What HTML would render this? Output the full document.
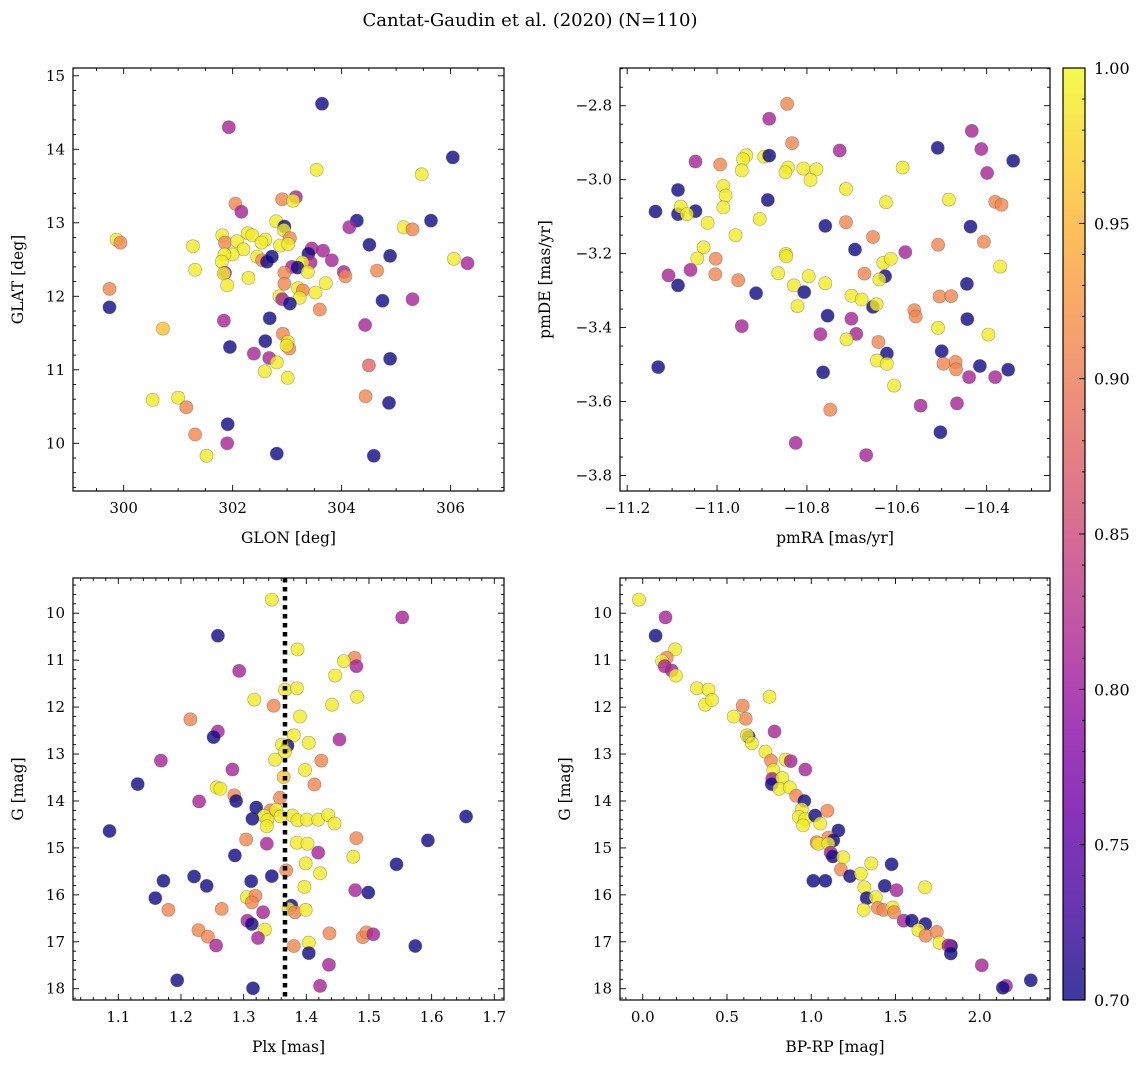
<!DOCTYPE html>
<html><head><meta charset="utf-8">
<style>
body{margin:0;background:#fff;}
svg{display:block;font-family:"DejaVu Serif","Liberation Serif",serif;}
</style></head>
<body>
<svg id="fig" width="1148" height="1067" viewBox="0 0 1148 1067" xmlns="http://www.w3.org/2000/svg">
<rect width="1148" height="1067" fill="#fff"/>
<text x="530" y="26" font-size="18" text-anchor="middle">Cantat-Gaudin et al. (2020) (N=110)</text>
<defs>
<linearGradient id="plasma" x1="0" y1="1" x2="0" y2="0">
<stop offset="0" stop-color="#0d0887"/><stop offset="0.1" stop-color="#41049d"/><stop offset="0.2" stop-color="#6a00a8"/><stop offset="0.3" stop-color="#8f0da4"/><stop offset="0.4" stop-color="#b12a90"/><stop offset="0.5" stop-color="#cc4778"/><stop offset="0.6" stop-color="#e16462"/><stop offset="0.7" stop-color="#f2844b"/><stop offset="0.8" stop-color="#fca636"/><stop offset="0.9" stop-color="#fcce25"/><stop offset="1" stop-color="#f0f921"/>
</linearGradient>
</defs>
</svg>
<script>
// ---- Panel 1: GLON / GLAT ----
const glon=[303.64,301.93,306.04,303.54,305.47,302.91,303.16,303.11,302.05,302.16,304.28,305.64,304.14,305.14,305.30,302.80,302.95,302.94,303.05,299.87,299.94,301.81,301.86,302.08,302.28,302.36,302.60,302.53,302.20,302.00,301.85,301.80,301.27,301.31,301.86,301.84,301.90,302.29,302.45,302.54,302.63,302.72,302.87,303.02,303.45,303.39,303.66,303.82,303.43,303.28,303.09,303.19,302.95,303.38,302.95,304.04,304.07,304.65,304.51,304.89,306.06,306.31,303.71,303.20,303.29,303.52,303.23,302.86,302.91,303.05,303.60,304.75,305.30,299.74,299.74,300.72,301.84,302.68,304.43,302.60,302.92,303.01,303.04,302.99,301.95,302.39,302.67,302.81,302.59,303.01,304.50,304.89,300.53,301.00,301.15,304.44,304.87,301.91,301.31,301.90,301.52,302.81,304.59];
const glat=[14.62,14.30,13.89,13.72,13.66,13.32,13.35,13.30,13.26,13.15,13.03,13.03,12.94,12.94,12.91,13.02,12.95,12.90,12.79,12.77,12.73,12.83,12.73,12.75,12.86,12.83,12.77,12.73,12.64,12.57,12.57,12.47,12.68,12.36,12.32,12.31,12.15,12.25,12.54,12.49,12.47,12.54,12.69,12.71,12.65,12.58,12.62,12.49,12.46,12.46,12.40,12.39,12.32,12.33,12.17,12.33,12.27,12.35,12.70,12.55,12.51,12.45,12.18,12.11,12.08,12.05,11.98,12.00,11.96,11.90,11.82,11.94,11.96,12.10,11.85,11.56,11.67,11.70,11.61,11.39,11.49,11.38,11.29,11.33,11.31,11.22,11.16,11.10,10.98,10.89,11.06,11.15,10.59,10.62,10.49,10.64,10.55,10.26,10.12,10.00,9.83,9.86,9.83];
const prob1=[0.70,0.81,0.70,0.99,0.99,0.91,0.81,0.99,0.91,0.81,0.70,0.70,0.81,0.99,0.91,0.99,0.70,0.99,0.91,0.99,0.91,0.99,0.91,0.99,0.99,0.99,0.99,0.99,0.99,0.99,0.99,0.99,0.99,0.99,0.81,0.99,0.99,0.99,0.99,0.91,0.70,0.70,0.99,0.99,0.81,0.70,0.81,0.81,0.81,0.99,0.81,0.70,0.91,0.99,0.91,0.81,0.91,0.91,0.70,0.70,0.99,0.81,0.99,0.99,0.91,0.99,0.99,0.99,0.81,0.70,0.91,0.70,0.81,0.91,0.70,0.96,0.81,0.70,0.81,0.70,0.91,0.99,0.91,0.99,0.70,0.81,0.81,0.99,0.99,0.99,0.88,0.70,0.99,0.99,0.91,0.91,0.70,0.70,0.91,0.81,0.99,0.70,0.70];
// ---- Panel 2: pmRA / pmDE ----
const pmra=[-10.844,-10.884,-10.833,-10.433,-10.509,-10.412,-10.727,-10.341,-10.399,-11.048,-10.993,-10.935,-10.942,-10.945,-10.895,-10.884,-10.842,-10.848,-10.808,-10.779,-10.792,-10.587,-10.713,-11.087,-10.986,-10.981,-10.986,-11.137,-11.087,-11.081,-11.048,-11.067,-10.887,-10.905,-11.021,-10.959,-10.624,-10.484,-10.381,-10.367,-10.759,-10.713,-10.653,-10.436,-10.406,-10.508,-11.030,-11.044,-10.693,-10.581,-10.847,-10.846,-11.003,-11.108,-11.059,-11.004,-11.087,-10.953,-10.913,-10.864,-10.829,-10.796,-10.806,-10.759,-10.821,-10.672,-10.630,-10.613,-10.626,-10.639,-10.701,-10.678,-10.653,-10.645,-10.370,-10.444,-10.505,-10.479,-10.561,-10.558,-10.754,-10.701,-10.443,-10.945,-10.508,-10.396,-10.770,-10.690,-10.712,-10.641,-10.622,-10.500,-10.644,-10.622,-10.496,-10.469,-10.468,-10.415,-10.352,-10.439,-10.381,-11.131,-10.764,-10.606,-10.547,-10.466,-10.748,-10.503,-10.825,-10.668];
const pmde=[-2.795,-2.835,-2.901,-2.868,-2.914,-2.917,-2.921,-2.949,-2.982,-2.951,-2.959,-2.934,-2.945,-2.975,-2.938,-2.935,-2.967,-2.980,-2.970,-2.972,-3.001,-2.967,-3.025,-3.028,-3.017,-3.043,-3.075,-3.086,-3.093,-3.073,-3.085,-3.093,-3.055,-3.106,-3.117,-3.150,-3.061,-3.054,-3.060,-3.068,-3.125,-3.115,-3.155,-3.127,-3.168,-3.176,-3.183,-3.213,-3.189,-3.196,-3.201,-3.207,-3.214,-3.259,-3.244,-3.256,-3.286,-3.272,-3.307,-3.253,-3.286,-3.261,-3.304,-3.280,-3.342,-3.254,-3.225,-3.214,-3.261,-3.270,-3.314,-3.324,-3.344,-3.337,-3.235,-3.282,-3.316,-3.315,-3.353,-3.370,-3.368,-3.376,-3.377,-3.396,-3.401,-3.419,-3.418,-3.417,-3.432,-3.439,-3.470,-3.464,-3.489,-3.498,-3.498,-3.493,-3.513,-3.504,-3.514,-3.534,-3.534,-3.507,-3.521,-3.557,-3.611,-3.605,-3.622,-3.683,-3.712,-3.745];
const prob2=[0.91,0.81,0.91,0.81,0.70,0.81,0.81,0.70,0.81,0.81,0.91,0.99,0.99,0.99,0.99,0.70,0.99,0.99,0.99,0.99,0.99,0.99,0.99,0.70,0.99,0.99,0.99,0.70,0.70,0.99,0.70,0.99,0.70,0.99,0.99,0.99,0.99,0.99,0.91,0.91,0.70,0.91,0.91,0.70,0.91,0.91,0.99,0.99,0.70,0.81,0.99,0.99,0.91,0.81,0.81,0.91,0.70,0.91,0.70,0.99,0.99,0.99,0.70,0.99,0.99,0.91,0.99,0.99,0.70,0.99,0.99,0.99,0.70,0.99,0.99,0.70,0.91,0.91,0.91,0.91,0.70,0.81,0.70,0.81,0.99,0.99,0.81,0.81,0.99,0.91,0.70,0.70,0.99,0.99,0.91,0.91,0.91,0.70,0.70,0.81,0.81,0.70,0.70,0.99,0.81,0.81,0.91,0.70,0.81,0.81];
// ---- Panel 3: Plx / G ----
const plx=[1.345,1.553,1.259,1.386,1.477,1.460,1.480,1.293,1.446,1.366,1.385,1.481,1.317,1.441,1.348,1.390,1.215,1.259,1.252,1.380,1.453,1.370,1.361,1.404,1.366,1.424,1.350,1.168,1.282,1.398,1.364,1.131,1.413,1.257,1.263,1.285,1.288,1.229,1.358,1.320,1.343,1.352,1.333,1.314,1.338,1.337,1.359,1.378,1.386,1.401,1.419,1.435,1.445,1.086,1.655,1.304,1.480,1.594,1.337,1.385,1.402,1.419,1.475,1.286,1.399,1.544,1.368,1.422,1.345,1.221,1.172,1.241,1.312,1.397,1.478,1.499,1.159,1.305,1.319,1.313,1.376,1.372,1.382,1.399,1.180,1.265,1.331,1.306,1.313,1.334,1.228,1.243,1.256,1.323,1.437,1.490,1.496,1.507,1.404,1.380,1.404,1.574,1.436,1.194,1.315,1.422];
const gmag3=[9.71,10.09,10.48,10.77,10.95,11.02,11.13,11.23,11.33,11.63,11.60,11.78,11.84,11.95,11.97,12.20,12.26,12.52,12.64,12.60,12.69,12.82,12.80,12.76,12.95,13.14,13.12,13.14,13.33,13.34,13.49,13.64,13.65,13.71,13.74,13.88,14.00,14.01,13.93,14.14,14.20,14.19,14.32,14.38,14.41,14.54,14.33,14.31,14.41,14.40,14.40,14.30,14.48,14.64,14.33,14.82,14.79,14.84,14.91,14.89,14.91,15.10,15.19,15.16,15.33,15.35,15.48,15.54,15.60,15.61,15.70,15.81,15.71,15.83,15.90,15.95,16.07,16.05,16.02,16.16,16.23,16.30,16.37,16.32,16.32,16.30,16.37,16.55,16.62,16.74,16.75,16.89,17.08,16.92,16.82,16.90,16.80,16.84,17.02,17.09,17.24,17.09,17.49,17.82,17.99,17.94];
const prob3=[0.99,0.81,0.70,0.99,0.91,0.99,0.81,0.81,0.99,0.99,0.99,0.99,0.99,0.99,0.91,0.99,0.91,0.81,0.70,0.99,0.81,0.70,0.99,0.99,0.99,0.91,0.99,0.81,0.81,0.99,0.96,0.70,0.91,0.99,0.99,0.91,0.70,0.81,0.91,0.70,0.91,0.99,0.99,0.70,0.99,0.99,0.99,0.99,0.99,0.99,0.99,0.99,0.99,0.70,0.70,0.91,0.91,0.70,0.81,0.99,0.99,0.81,0.99,0.70,0.99,0.70,0.91,0.99,0.70,0.70,0.70,0.70,0.70,0.99,0.81,0.70,0.70,0.99,0.91,0.91,0.70,0.99,0.91,0.99,0.91,0.91,0.81,0.81,0.70,0.99,0.91,0.91,0.81,0.81,0.91,0.91,0.91,0.81,0.99,0.91,0.70,0.70,0.81,0.70,0.70,0.81];
const plxLine=1.366;
// ---- Panel 4: BP-RP / G ----
const bprp=[-0.022,0.135,0.076,0.192,0.142,0.115,0.130,0.172,0.197,0.322,0.390,0.370,0.411,0.752,0.593,0.611,0.540,0.782,0.629,0.619,0.648,0.728,0.761,0.848,0.878,0.965,0.775,0.768,0.766,0.828,0.811,0.873,0.910,0.959,0.944,0.926,0.964,0.951,1.023,1.053,1.096,1.161,1.032,1.101,1.131,1.042,1.101,1.115,1.128,1.189,1.176,1.012,1.084,1.230,1.295,1.356,1.477,1.315,1.436,1.506,1.675,1.329,1.383,1.395,1.428,1.311,1.483,1.491,1.549,1.597,1.677,1.636,1.679,1.745,1.761,1.830,1.814,1.828,2.012,2.156,2.137,2.303];
const gmag4=[9.71,10.09,10.48,10.77,10.95,11.02,11.13,11.22,11.33,11.60,11.63,11.95,11.85,11.78,11.97,12.25,12.20,12.52,12.63,12.60,12.77,12.95,13.14,13.12,13.15,13.33,13.34,13.53,13.64,13.51,13.74,13.71,13.89,14.00,14.18,14.34,14.39,14.52,14.31,14.48,14.21,14.63,14.88,14.78,14.84,14.91,14.91,15.10,15.18,15.20,15.46,15.70,15.70,15.60,15.55,15.33,15.35,15.84,15.81,15.90,15.84,16.07,16.05,16.28,16.32,16.32,16.27,16.37,16.55,16.55,16.62,16.75,16.87,16.79,17.02,17.09,17.08,17.25,17.50,17.94,17.98,17.82];
const prob4=[0.99,0.81,0.70,0.99,0.91,0.99,0.81,0.81,0.99,0.99,0.99,0.99,0.99,0.99,0.91,0.91,0.99,0.81,0.70,0.99,0.99,0.99,0.91,0.99,0.81,0.81,0.99,0.81,0.70,0.99,0.99,0.99,0.91,0.70,0.99,0.99,0.99,0.99,0.70,0.99,0.91,0.70,0.91,0.91,0.70,0.99,0.99,0.81,0.70,0.99,0.91,0.70,0.70,0.70,0.99,0.99,0.70,0.99,0.70,0.81,0.99,0.70,0.99,0.91,0.91,0.99,0.99,0.91,0.81,0.70,0.70,0.99,0.91,0.91,0.99,0.70,0.81,0.70,0.81,0.81,0.70,0.70];
// ---- tick labels ----
const p1xTicks=[300,302,304,306], p1yTicks=[10,11,12,13,14,15];
const p2xTicks=[-11.2,-11.0,-10.8,-10.6,-10.4], p2yTicks=[-2.8,-3.0,-3.2,-3.4,-3.6,-3.8];
const p3xTicks=[1.1,1.2,1.3,1.4,1.5,1.6,1.7], gTicks=[10,11,12,13,14,15,16,17,18];
const p4xTicks=[0.0,0.5,1.0,1.5,2.0];
const cbTicks=[0.70,0.75,0.80,0.85,0.90,0.95,1.00];

const NS="http://www.w3.org/2000/svg";
const svg=document.getElementById('fig');
function mk(tag,attrs,parent){const e=document.createElementNS(NS,tag);for(const k in attrs)e.setAttribute(k,attrs[k]);(parent||svg).appendChild(e);return e;}
const stops=[[0,13,8,135],[0.1,65,4,157],[0.2,106,0,168],[0.3,143,13,164],[0.4,177,42,144],[0.5,204,71,120],[0.6,225,100,98],[0.7,242,132,75],[0.8,252,166,54],[0.9,252,206,37],[1,240,249,33]];
function plasma(v){const t=Math.max(0,Math.min(1,(v-0.7)/0.3));for(let i=1;i<stops.length;i++){if(t<=stops[i][0]){const a=stops[i-1],b=stops[i],f=(t-a[0])/(b[0]-a[0]);return 'rgb('+[1,2,3].map(j=>Math.round(a[j]+f*(b[j]-a[j]))).join(',')+')';}}return 'rgb(240,249,33)';}
function fmt(v,d){return (v<0?'\u2212':'')+Math.abs(v).toFixed(d);}

function panel(o){
  const g=mk('g',{});
  
  
  const sx=v=>o.x0+(v-o.xd[0])/(o.xd[1]-o.xd[0])*(o.x1-o.x0);
  const sy=v=>o.y1-(v-o.yd[0])/(o.yd[1]-o.yd[0])*(o.y1-o.y0);
  const pts=mk('g',{},g);
  
  
  for(let i=0;i<o.xs.length;i++){
    const c=mk('circle',{cx:sx(o.xs[i]).toFixed(1),cy:sy(o.ys[i]).toFixed(1),r:6.6,fill:plasma(o.ps[i]),'fill-opacity':0.8,stroke:'#555','stroke-opacity':0.5,'stroke-width':0.6},pts);
    
    
  }
  if(o.vline!==undefined){
    const l=mk('line',{x1:sx(o.vline),x2:sx(o.vline),y1:o.y0,y2:o.y1,stroke:'#000','stroke-width':4.5,'stroke-dasharray':'4.5,4.5'},g);
    
    
  }
  const fr=mk('rect',{x:o.x0,y:o.y0,width:o.x1-o.x0,height:o.y1-o.y0,fill:'none',stroke:'#000','stroke-width':1.2},g);
  
  
  const tk=mk('g',{stroke:'#000','stroke-width':0.9},g);
  
  
  const xlo=Math.min(...o.xd),xhi=Math.max(...o.xd),ylo=Math.min(...o.yd),yhi=Math.max(...o.yd);
  const ms=o.xmin;
  for(let v=Math.ceil(xlo/ms)*ms;v<=xhi;v+=ms){const X=sx(v);const major=o.xt.some(t=>Math.abs(t-v)<ms/3);const L=major?6:3;
    mk('line',{x1:X,x2:X,y1:o.y1,y2:o.y1-L},tk);mk('line',{x1:X,x2:X,y1:o.y0,y2:o.y0+L},tk);}
  const mys=o.ymin;
  for(let v=Math.ceil(ylo/mys)*mys;v<=yhi;v+=mys){const Y=sy(v);const major=o.yt.some(t=>Math.abs(t-v)<mys/3);const L=major?6:3;
    mk('line',{x1:o.x0,x2:o.x0+L,y1:Y,y2:Y},tk);mk('line',{x1:o.x1,x2:o.x1-L,y1:Y,y2:Y},tk);}
  o.xt.forEach(t=>{const e=mk('text',{x:sx(t),y:o.y1+22,'font-size':15,'text-anchor':'middle'},g);e.textContent=fmt(t,o.xdp);
    });
  o.yt.forEach(t=>{const e=mk('text',{x:o.x0-8,y:sy(t)+5,'font-size':15,'text-anchor':'end'},g);e.textContent=fmt(t,o.ydp);
    });
  const xl=mk('text',{x:(o.x0+o.x1)/2,y:o.y1+52,'font-size':15.5,'text-anchor':'middle'},g);xl.textContent=o.xlab;
  
  const yx=o.x0-o.ylabOff, yy=(o.y0+o.y1)/2;
  const yl=mk('text',{x:yx,y:yy,'font-size':15.5,'text-anchor':'middle',transform:'rotate(-90 '+yx+' '+yy+')'},g);yl.textContent=o.ylab;
  
}

panel({name:'panel-sky-position',x0:73,x1:504,y0:68,y1:491,xd:[299.07,306.98],yd:[9.351,15.106],xs:glon,ys:glat,ps:prob1,xt:p1xTicks,yt:p1yTicks,xmin:0.5,ymin:0.2,xdp:0,ydp:0,xlab:'GLON [deg]',ylab:'GLAT [deg]',ylabOff:50});
panel({name:'panel-proper-motion',x0:620,x1:1050,y0:68,y1:491,xd:[-11.216,-10.259],yd:[-3.842,-2.698],xs:pmra,ys:pmde,ps:prob2,xt:p2xTicks,yt:p2yTicks,xmin:0.05,ymin:0.05,xdp:1,ydp:1,xlab:'pmRA [mas/yr]',ylab:'pmDE [mas/yr]',ylabOff:70});
panel({name:'panel-parallax-magnitude',x0:73,x1:504,y0:578,y1:1000,xd:[1.0277,1.7155],yd:[18.24,9.25],xs:plx,ys:gmag3,ps:prob3,xt:p3xTicks,yt:gTicks,xmin:0.02,ymin:0.2,xdp:1,ydp:0,xlab:'Plx [mas]',ylab:'G [mag]',ylabOff:50,vline:plxLine});
panel({name:'panel-color-magnitude',x0:620,x1:1050,y0:578,y1:1000,xd:[-0.135,2.417],yd:[18.24,9.25],xs:bprp,ys:gmag4,ps:prob4,xt:p4xTicks,yt:gTicks,xmin:0.1,ymin:0.2,xdp:1,ydp:0,xlab:'BP-RP [mag]',ylab:'G [mag]',ylabOff:50});

// colorbar
const cb=mk('g',{});


const cx0=1063,cx1=1085,cy0=68,cy1=1000;
mk('rect',{x:cx0,y:cy0,width:cx1-cx0,height:cy1-cy0,fill:'url(#plasma)','fill-opacity':0.8},cb);
mk('rect',{x:cx0,y:cy0,width:cx1-cx0,height:cy1-cy0,fill:'none',stroke:'#000','stroke-width':1.2},cb);
const cyS=v=>cy1-(v-0.7)/0.3*(cy1-cy0);
for(let k=70;k<=100;k++){const v=k/100,Y=cyS(v);const major=(k%5===0);mk('line',{x1:cx1,x2:cx1-(major?6:3),y1:Y,y2:Y,stroke:'#000','stroke-width':0.9},cb);}
cbTicks.forEach(t=>{const e=mk('text',{x:cx1+9,y:cyS(t)+6,'font-size':16},cb);e.textContent=t.toFixed(2);
  });
</script>
</body></html>
